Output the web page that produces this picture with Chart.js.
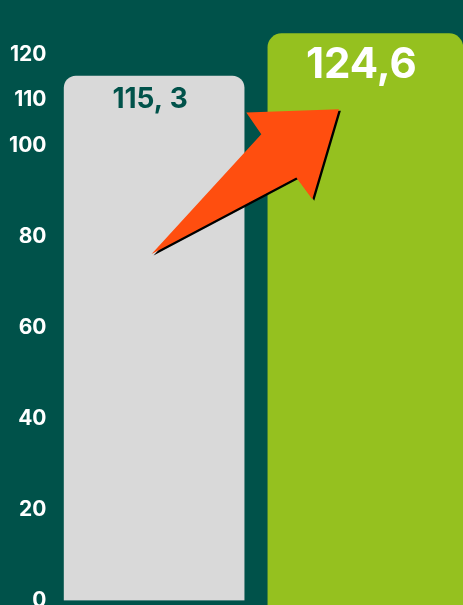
<!DOCTYPE html>
<html>
<head>
<meta charset="utf-8">
<script src="https://cdn.jsdelivr.net/npm/chart.js@4.4.1/dist/chart.umd.min.js"></script>
<style>
  html, body { margin: 0; padding: 0; background: #00524a; overflow: hidden; }
  /* canvas is a bit wider than the window: the right bar is cut by the frame */
  #wrap { width: 471px; height: 605px; position: relative; }
</style>
</head>
<body>
<div id="wrap"><canvas id="myChart"></canvas></div>
<script>
// chart data
const categories = ['A', 'B'];
const values = [115.3, 124.6];
const valueLabels = ['115, 3', '124,6'];
const tickValues = [0, 20, 40, 60, 80, 100, 110, 120];

const FONT = 'Inter, "Noto Sans", sans-serif';

// draws the number inside the top of each bar
const valueLabelPlugin = {
  id: 'valueLabels',
  afterDatasetsDraw(chart) {
    const ctx = chart.ctx;
    chart.data.datasets.forEach((ds, i) => {
      const meta = chart.getDatasetMeta(i);
      meta.data.forEach((bar, j) => {
        if (ds.data[j] == null) return;
        ctx.save();
        ctx.font = `700 ${ds.labelSize}px ${FONT}`;
        ctx.fillStyle = ds.labelColor;
        ctx.textAlign = 'center';
        ctx.textBaseline = 'middle';
        ctx.fillText(valueLabels[j], bar.x - 4, bar.y + 7 + ds.labelSize * 0.6);
        ctx.restore();
      });
    });
  }
};

// decorative arrow going from the first bar up to the second one
const arrowPlugin = {
  id: 'arrow',
  afterDraw(chart) {
    const ctx = chart.ctx;
    const y = chart.scales.y;
    const green = chart.getDatasetMeta(1).data[1];
    const tipX = green.x - green.width / 2 + 71;
    const tipY = y.getPixelForValue(108);
    const shape = [[0, 0], [-92.6, 3.4], [-77.6, 25], [-187.3, 144.7], [-42.6, 68.4], [-26.6, 90]];

    const path = (ox, oy) => {
      ctx.beginPath();
      shape.forEach(([dx, dy], k) => {
        const px = tipX + dx + ox, py = tipY + dy + oy;
        if (k === 0) ctx.moveTo(px, py); else ctx.lineTo(px, py);
      });
      ctx.closePath();
    };

    ctx.save();
    path(2, 1.5);
    ctx.fillStyle = '#000000';
    ctx.fill();
    path(0, 0);
    ctx.fillStyle = '#ff4e0f';
    ctx.fill();
    ctx.restore();
  }
};

new Chart(document.getElementById('myChart').getContext('2d'), {
  type: 'bar',
  data: {
    labels: categories,
    datasets: [
      {
        data: [values[0], null],
        backgroundColor: '#d9d9d9',
        barThickness: 180,
        borderRadius: 12,
        labelColor: '#00524a',
        labelSize: 28
      },
      {
        data: [null, values[1]],
        backgroundColor: '#95c11f',
        barThickness: 195,
        borderRadius: 14,
        base: -1,
        clip: false,
        labelColor: '#ffffff',
        labelSize: 42
      }
    ]
  },
  options: {
    responsive: true,
    maintainAspectRatio: false,
    animation: false,
    grouped: false,
    layout: { padding: { left: 0, right: 0, top: 0, bottom: 4.5 } },
    plugins: {
      legend: { display: false },
      tooltip: { enabled: false }
    },
    scales: {
      x: {
        display: false,
        offset: true
      },
      y: {
        min: 0,
        max: 132,
        grid: { display: false, drawTicks: false },
        border: { display: false },
        afterBuildTicks: (scale) => {
          scale.ticks = tickValues.map(v => ({ value: v }));
        },
        afterFit: (scale) => {
          scale.width = 48.5;
          scale.paddingTop = 0;
          scale.paddingBottom = 0;
        },
        ticks: {
          autoSkip: false,
          padding: 2,
          color: '#ffffff',
          font: { family: FONT, size: 21, weight: '700' }
        }
      }
    }
  },
  plugins: [valueLabelPlugin, arrowPlugin]
});
</script>
</body>
</html>
